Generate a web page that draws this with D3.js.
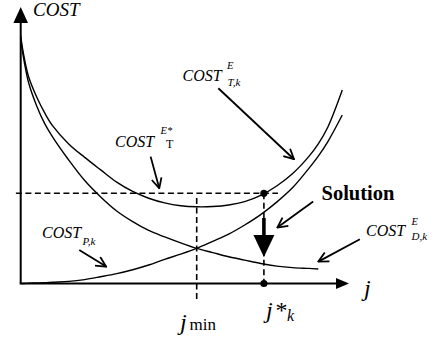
<!DOCTYPE html>
<html><head><meta charset="utf-8">
<script src="https://cdn.jsdelivr.net/npm/d3@7"></script>
</head><body style="margin:0">
<svg id="fig" width="434" height="341"></svg>
<script>
// ---- data (abstract units) ----
const jGrid = [0, 0.1, 0.25, 0.5, 0.75, 1, 1.5, 2, 2.5, 3, 3.5, 4, 4.5, 5, 5.5, 6, 6.5, 7, 7.5, 8, 8.5, 9, 9.3, 9.6, 10.05];
const costT = [9.52, 8.75, 7.94, 7.17, 6.56, 6.06, 5.37, 4.85, 4.37, 3.90, 3.54, 3.28, 3.10, 2.99, 2.95, 2.96, 3.02, 3.15, 3.39, 3.75, 4.23, 4.88, 5.37, 6.02, 7.44];
const costD = [9.37, 8.60, 7.71, 6.83, 6.15, 5.63, 4.75, 3.96, 3.33, 2.79, 2.38, 2.04, 1.79, 1.56, 1.35, 1.19, 1.03, 0.90, 0.77, 0.67, 0.61, 0.58, 0.56];
const costP = [0, 0.00, 0.01, 0.02, 0.03, 0.05, 0.08, 0.15, 0.26, 0.38, 0.53, 0.71, 0.93, 1.13, 1.35, 1.62, 1.90, 2.25, 2.65, 3.13, 3.69, 4.42, 4.90, 5.46, 6.48];
const jMin = 5.5;
const jStar = 7.6;
const costStar = 3.47;
const jMinLineTop = 3.29, jMinLineBottom = -0.71;
const hDashStart = -0.15, hDashEnd = 8.04;
const solTop = 2.52, solTip = 1.02;
const axisTipJ = 10.26, axisTipCost = 10.63;
// annotation arrows: [j0, c0, j1, c1]
const pointerArrows = [
  [6.175, 7.51, 8.54, 4.78],
  [4.06, 4.88, 4.33, 3.66],
  [1.83, 1.29, 2.67, 0.65],
  [9.14, 3.15, 8.02, 2.15],
  [10.60, 1.70, 9.30, 0.84]
];

// ---- drawing ----
const svg = d3.select("#fig");
const x = d3.scaleLinear().domain([0, 10]).range([20.7, 340.7]);
const y = d3.scaleLinear().domain([0, 10]).range([283.5, 23.5]);

const defs = svg.append("defs");
defs.append("marker").attr("id", "vhead")
  .attr("viewBox", "0 0 12 12").attr("refX", 11).attr("refY", 6)
  .attr("markerWidth", 12).attr("markerHeight", 12)
  .attr("markerUnits", "userSpaceOnUse").attr("orient", "auto")
  .append("path").attr("d", "M1,1 L11,6 L1,11")
  .attr("fill", "none").attr("stroke", "#000").attr("stroke-width", 1.8);

// axes
svg.append("line").attr("x1", x(0)).attr("y1", y(0)).attr("x2", x(0)).attr("y2", y(axisTipCost) + 14)
  .attr("stroke", "#000").attr("stroke-width", 2);
svg.append("path").attr("d", `M${x(0)},${y(axisTipCost)} L${x(0) - 7.3},${y(axisTipCost) + 16} L${x(0) + 7.3},${y(axisTipCost) + 16} Z`).attr("fill", "#000");
svg.append("line").attr("x1", x(0) - 1).attr("y1", y(0)).attr("x2", x(axisTipJ) - 12).attr("y2", y(0))
  .attr("stroke", "#000").attr("stroke-width", 2);
svg.append("path").attr("d", `M${x(axisTipJ)},${y(0)} L${x(axisTipJ) - 13},${y(0) - 5.5} L${x(axisTipJ) - 13},${y(0) + 5.5} Z`).attr("fill", "#000");

// dashed guides
const dash = "6,3.5";
svg.append("line").attr("x1", x(hDashStart)).attr("x2", x(hDashEnd)).attr("y1", y(costStar)).attr("y2", y(costStar))
  .attr("stroke", "#000").attr("stroke-width", 1.6).attr("stroke-dasharray", dash);
svg.append("line").attr("x1", x(jMin)).attr("x2", x(jMin)).attr("y1", y(jMinLineTop)).attr("y2", y(jMinLineBottom))
  .attr("stroke", "#000").attr("stroke-width", 1.6).attr("stroke-dasharray", dash);
svg.append("line").attr("x1", x(jStar)).attr("x2", x(jStar)).attr("y1", y(costStar)).attr("y2", y(0))
  .attr("stroke", "#000").attr("stroke-width", 1.6).attr("stroke-dasharray", dash);

// curves
const line = d3.line().x(d => x(d[0])).y(d => y(d[1])).curve(d3.curveCatmullRom.alpha(0.5));
[costT, costD, costP].forEach(vals => {
  const pts = vals.map((v, i) => [jGrid[i], v]);
  svg.append("path").attr("d", line(pts)).attr("fill", "none").attr("stroke", "#000").attr("stroke-width", 1.4);
});

// dots
svg.append("circle").attr("cx", x(jStar)).attr("cy", y(costStar)).attr("r", 3.6).attr("fill", "#000");
svg.append("circle").attr("cx", x(jStar)).attr("cy", y(0)).attr("r", 3.6).attr("fill", "#000");

// solution arrow
const headLen = 22, headHalf = 10.5;
svg.append("line").attr("x1", x(jStar)).attr("x2", x(jStar)).attr("y1", y(solTop)).attr("y2", y(solTip) - headLen + 1)
  .attr("stroke", "#000").attr("stroke-width", 3.6);
svg.append("path").attr("d", `M${x(jStar)},${y(solTip)} L${x(jStar) - headHalf},${y(solTip) - headLen} L${x(jStar) + headHalf},${y(solTip) - headLen} Z`).attr("fill", "#000");

// pointer arrows
pointerArrows.forEach(a => {
  svg.append("line").attr("x1", x(a[0])).attr("y1", y(a[1])).attr("x2", x(a[2])).attr("y2", y(a[3]))
    .attr("stroke", "#000").attr("stroke-width", 1.8).attr("marker-end", "url(#vhead)");
});

// text labels: [x, y, text, size, italic, bold]
const labels = [
  [33, 16, "COST", 19, 1, 0],
  [182.5, 81, "COST", 16, 1, 0],
  [227, 69, "E", 10.5, 1, 0],
  [227.5, 85.5, "T,k", 11, 1, 0],
  [115, 147, "COST", 16, 1, 0],
  [160.5, 134, "E*", 10.5, 1, 0],
  [166, 147.5, "T", 12, 0, 0],
  [42, 238, "COST", 16, 1, 0],
  [82.5, 245, "P,k", 11, 1, 0],
  [366, 236, "COST", 16, 1, 0],
  [411.5, 225, "E", 10.5, 1, 0],
  [411.5, 239.5, "D,k", 11, 1, 0],
  [321.5, 200, "Solution", 20.5, 0, 1],
  [364, 296, "j", 24, 1, 0],
  [180, 329.5, "j", 24, 1, 0],
  [189.5, 329.5, "min", 17, 0, 0],
  [266, 318, "j", 24, 1, 0],
  [275.5, 318, "*", 24, 0, 0],
  [287, 321, "k", 16, 1, 0]
];
labels.forEach(l => {
  svg.append("text").attr("x", l[0]).attr("y", l[1])
    .attr("style", `font-family:'Liberation Serif';font-size:${l[3]}px;font-style:${l[4] ? "italic" : "normal"};font-weight:${l[5] ? "bold" : "normal"};fill:#000`)
    .text(l[2]);
});
</script>
</body></html>
